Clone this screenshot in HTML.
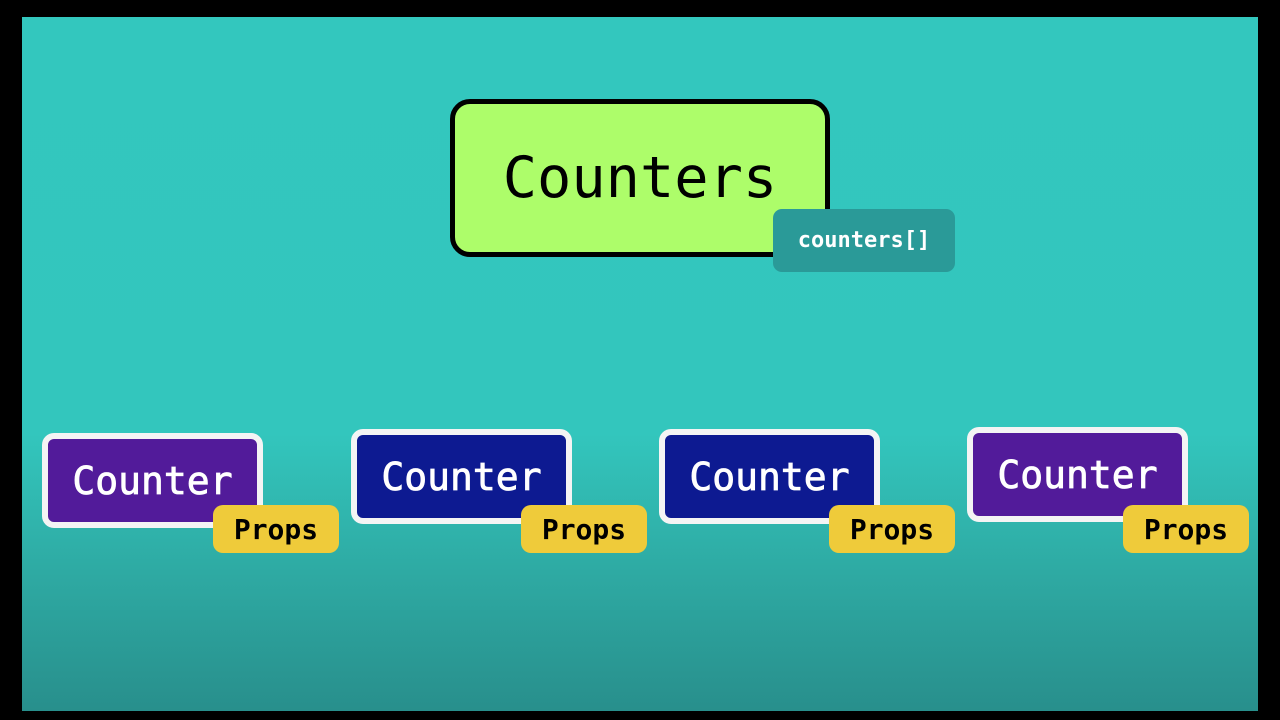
<!DOCTYPE html>
<html><head><meta charset="utf-8"><style>
*{margin:0;padding:0;box-sizing:border-box}
body{width:1280px;height:720px;background:#000;position:relative;overflow:hidden;font-family:"DejaVu Sans Mono","Liberation Mono",monospace}
.bg{position:absolute;left:22px;top:17px;width:1236px;height:694px;background:linear-gradient(#33c7be 0%,#33c6bd 60%,#2eaaa3 80%,#288f8c 100%)}
.abs{position:absolute;display:flex;align-items:center;justify-content:center}
.main{left:450px;top:99px;width:380px;height:158px;background:#adfd6a;border:5px solid #000;border-radius:20px;font-size:57px;color:#000}
.tag{left:773px;top:209px;width:182px;height:63px;background:#2a9a98;border-radius:9px;color:#fff;font-weight:bold;font-size:22px}
.c{width:221px;height:95px;border:6px solid #f4f4f4;border-radius:12px;color:#fff;font-size:38px;-webkit-text-stroke:0.8px #fff}
.p{width:126px;height:48px;background:#efcb3a;border-radius:10px;color:#000;font-size:28px;font-weight:bold}
.pu{background:#521b9a}.bl{background:#0d1a91}
</style></head><body>
<div class="bg"></div>
<div class="abs main">Counters</div>
<div class="abs tag">counters[]</div>
<div class="abs c pu" style="left:42px;top:433px">Counter</div>
<div class="abs p" style="left:213px;top:505px">Props</div>
<div class="abs c bl" style="left:351px;top:429px">Counter</div>
<div class="abs p" style="left:521px;top:505px">Props</div>
<div class="abs c bl" style="left:659px;top:429px">Counter</div>
<div class="abs p" style="left:829px;top:505px">Props</div>
<div class="abs c pu" style="left:967px;top:427px">Counter</div>
<div class="abs p" style="left:1123px;top:505px">Props</div>
</body></html>
